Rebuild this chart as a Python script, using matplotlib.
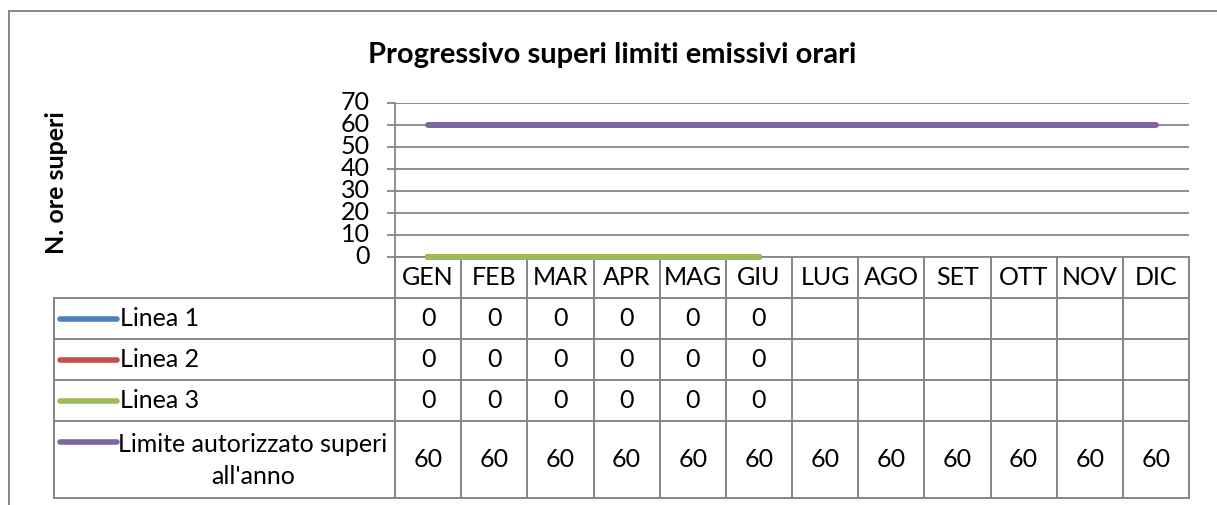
import numpy as np
import matplotlib
matplotlib.use('Agg')
from matplotlib import pyplot as plt

# dati
mesi = ['GEN', 'FEB', 'MAR', 'APR', 'MAG', 'GIU', 'LUG', 'AGO', 'SET', 'OTT', 'NOV', 'DIC']
linea1 = [0, 0, 0, 0, 0, 0, None, None, None, None, None, None]
linea2 = [0, 0, 0, 0, 0, 0, None, None, None, None, None, None]
linea3 = [0, 0, 0, 0, 0, 0, None, None, None, None, None, None]
limite = [60] * 12
nomi = ['Linea 1', 'Linea 2', 'Linea 3', "Limite autorizzato superi\nall'anno"]
colori = ['#4F81BD', '#C0504D', '#9BBB59', '#8064A2']

plt.rcParams['font.family'] = ['Lato', 'DejaVu Sans']
grigio = '#868686'
fs = 18

W, H = 1217, 505
fig = plt.figure(figsize=(W / 100, H / 100), dpi=100)

# sfondo / tabella in coordinate pixel
tab = fig.add_axes([0, 0, 1, 1])
tab.set_xlim(0, W)
tab.set_ylim(H, 0)
tab.axis('off')

# cornice esterna
tab.plot([9, 9], [11, H + 5], color=grigio, lw=1.4)
tab.plot([9, W + 5], [11, 11], color=grigio, lw=1.4)

x0, x1 = 395, 1189
y_top, y_bot = 103, 257
ax = fig.add_axes([x0 / W, 1 - y_bot / H, (x1 - x0) / W, (y_bot - y_top) / H])
ax.set_xlim(-0.5, 11.5)
ax.set_ylim(0, 70)
ax.patch.set_alpha(0)

serie = [linea1, linea2, linea3, limite]
x = np.arange(len(mesi))
for vals, c in zip(serie, colori):
    y = np.array([np.nan if v is None else v for v in vals], dtype=float)
    ax.plot(x, y, color=c, lw=4.3, solid_capstyle='round', clip_on=False, zorder=3)

ax.set_yticks(range(0, 71, 10))
ax.yaxis.grid(True, color=grigio, lw=1.3)
ax.set_xticks([])
for s in ['top', 'right']:
    ax.spines[s].set_visible(False)
for s in ['left', 'bottom']:
    ax.spines[s].set_color(grigio)
    ax.spines[s].set_linewidth(1.3)
ax.tick_params(axis='y', direction='out', length=6, width=1.3, color=grigio,
               labelsize=fs, pad=12)
for lab in ax.get_yticklabels():
    lab.set_verticalalignment('center')
ax.set_axisbelow(True)

# tabella dati
righe = [257, 298, 339, 380, 421, 498]
col_w = (x1 - x0) / len(mesi)
bordi = [x0 + i * col_w for i in range(len(mesi) + 1)]
centri = [(bordi[i] + bordi[i + 1]) / 2 for i in range(len(mesi))]
lx = 54

for b in bordi:
    tab.plot([b, b], [righe[0], righe[-1]], color=grigio, lw=1.4)
tab.plot([lx, lx], [righe[1], righe[-1]], color=grigio, lw=1.4)
for r in righe[1:]:
    tab.plot([lx, x1], [r, r], color=grigio, lw=1.4)

ym = (righe[0] + righe[1]) / 2
for cx, m in zip(centri, mesi):
    tab.text(cx, ym, m, ha='center', va='center', fontsize=fs)

for i, (nome, c, vals) in enumerate(zip(nomi, colori, serie)):
    ya, yb = righe[i + 1], righe[i + 2]
    yc = (ya + yb) / 2
    if '\n' in nome:
        tab.plot([60, 117], [ya + 21, ya + 21], color=c, lw=4, solid_capstyle='round')
        tab.text(253, yc + 1, nome, ha='center', va='center', fontsize=fs,
                 multialignment='center', linespacing=1.5)
    else:
        tab.plot([60, 117], [yc, yc], color=c, lw=4, solid_capstyle='round')
        tab.text(120, yc, nome, ha='left', va='center', fontsize=fs)
    for cx, v in zip(centri, vals):
        if v is not None:
            tab.text(cx, yc, str(v), ha='center', va='center', fontsize=fs)

tab.text(612, 55, 'Progressivo superi limiti emissivi orari', ha='center', va='center',
         fontsize=21, fontweight='bold')
tab.text(57, 183, 'N. ore superi', ha='center', va='center', rotation=90,
         fontsize=fs, fontweight='bold')

fig.savefig('out.png', dpi=100)
